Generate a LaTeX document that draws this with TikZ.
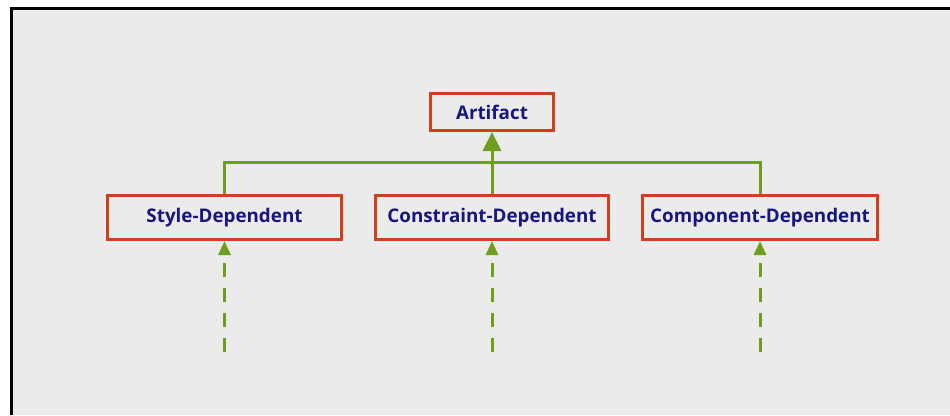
\documentclass[tikz,border=0pt]{standalone}
\usepackage{fontspec}
\setmainfont{Open Sans}
\usetikzlibrary{arrows.meta}
\definecolor{panelgray}{HTML}{EBEBEB}
\definecolor{boxred}{HTML}{D0401C}
\definecolor{linkgreen}{HTML}{6E9E1E}
\definecolor{labelnavy}{HTML}{16167E}
\begin{document}
\begin{tikzpicture}[x=1pt,y=-1pt,
  classbox/.style={draw=boxred, line width=3pt, fill=panelgray, inner sep=0pt,
    text=labelnavy, font=\fontsize{18.8}{22}\selectfont\bfseries},
  link/.style={draw=linkgreen, line width=3pt},
  inherit/.style={link, -{Triangle[length=19pt,width=18pt]}},
  depend/.style={link, dash pattern=on 14pt off 11pt, -{Triangle[length=14pt,width=12pt]}}]
  % page and panel with its top and left rule
  \useasboundingbox (0,0) rectangle (950,415);
  \fill[white] (0,0) rectangle (950,415);
  \fill[panelgray] (10,7) rectangle (950,415);
  \draw[black, line width=3pt] (11.5,415) -- (11.5,8.5) -- (950,8.5);
  % class boxes
  \node[classbox, minimum width=123pt, minimum height=37pt] (art) at (492,112) {Artifact};
  \node[classbox, minimum width=234pt, minimum height=44pt] (sty) at (224.5,217.5) {Style-Dependent};
  \node[classbox, minimum width=233pt, minimum height=44pt] (con) at (492,217.5) {Constraint-Dependent};
  \node[classbox, minimum width=235pt, minimum height=44pt] (com) at (760,217.5) {Component-Dependent};
  % inheritance tree
  \coordinate (bar) at (492,162);
  \draw[link] (sty.north) |- (bar) -| (com.north);
  \draw[inherit] (con.north) -- (art.south);
  % dependency stubs
  \coordinate (s0) at (224.5,352);
  \coordinate (c0) at (492,352);
  \coordinate (m0) at (760,352);
  \draw[depend] (s0) -- (sty.south);
  \draw[depend] (c0) -- (con.south);
  \draw[depend] (m0) -- (com.south);
\end{tikzpicture}
\end{document}
